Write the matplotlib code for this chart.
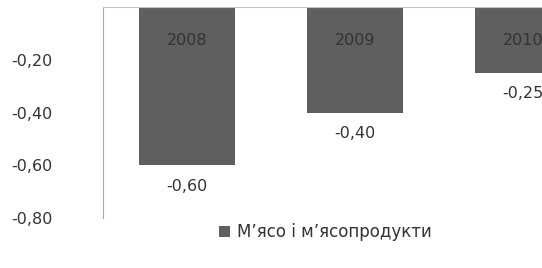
import matplotlib.pyplot as plt

# data
years = ['2008', '2009', '2010']
values = [-0.60, -0.40, -0.25]
value_labels = ['-0,60', '-0,40', '-0,25']
y_ticks = [-0.20, -0.40, -0.60, -0.80]
y_tick_labels = ['-0,20', '-0,40', '-0,60', '-0,80']
series_name = 'М’ясо і м’ясопродукти'

plt.rcParams['font.family'] = ['DejaVu Sans']

fig = plt.figure(figsize=(5.42, 2.68), dpi=100)
# the reference is cropped on the right, so the axes runs past the figure edge
ax = fig.add_axes([0.190, 0.1866, 0.93, 0.787])

bar_color = '#5f5f5f'
text_color = '#333333'
x = list(range(len(years)))
ax.bar(x, values, width=0.57, color=bar_color, label=series_name)

ax.set_xlim(-0.5, 2.5)
ax.set_ylim(-0.8, 0)

# category names sit inside the bars, value labels below their ends
for xi, yr, v, lab in zip(x, years, values, value_labels):
    ax.text(xi, -0.122, yr, ha='center', va='center_baseline', fontsize=11.5, color=text_color)
    ax.text(xi, v - 0.074, lab, ha='center', va='center_baseline', fontsize=11.5, color=text_color)

# y labels placed by hand at the tick values (left-aligned like the reference)
ax.set_yticks([])
ax.set_xticks([])
ytrans = ax.get_yaxis_transform()
for yv, lab in zip(y_ticks, y_tick_labels):
    ax.text(-0.182, yv, lab, transform=ytrans, ha='left', va='center_baseline',
            fontsize=11.5, color=text_color, clip_on=False)

for side in ['right', 'bottom']:
    ax.spines[side].set_visible(False)
ax.spines['left'].set_color('#a8a8a8')
ax.spines['top'].set_color('#c4c4c4')

fig.legend(loc='center', bbox_to_anchor=(0.60, 0.134), frameon=False,
           fontsize=12, handlelength=0.65, handleheight=0.65, handletextpad=0.4,
           labelcolor=text_color)

fig.savefig('out.png', dpi=100)
